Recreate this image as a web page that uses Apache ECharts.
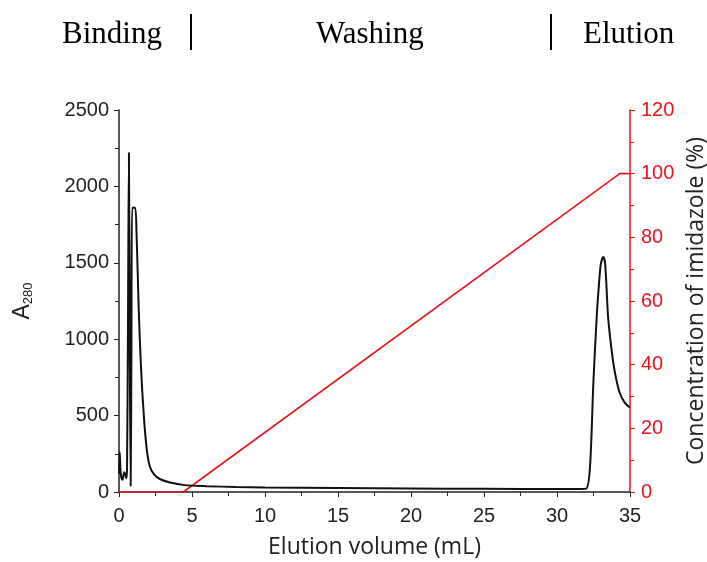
<!DOCTYPE html>
<html>
<head>
<meta charset="utf-8">
<script src="https://cdn.jsdelivr.net/npm/echarts@6/dist/echarts.min.js"></script>
<style>
  html, body { margin: 0; padding: 0; background: #fff; }
  #chart { width: 707px; height: 562px; }
</style>
</head>
<body>
<div id="chart"></div>
<script>
// A280 trace
var volume = [0, 0.05, 0.1, 0.15, 0.25, 0.35, 0.45, 0.5, 0.55, 0.62, 0.68, 0.74, 0.8, 0.85, 0.9, 1.1, 1.2, 1.35, 1.5, 1.7, 1.9, 2.1, 2.4, 2.8, 3.5, 4.5, 6, 8, 10, 15, 20, 25, 30, 31.5, 32.0, 32.26, 32.49, 32.72, 32.88, 33.0, 33.17, 33.3, 33.5, 33.7, 33.9, 34.1, 34.3, 34.6, 34.9, 35];
var a280 = [120, 260, 150, 100, 80, 130, 110, 90, 150, 1200, 2220, 900, 40, 900, 1860, 1860, 1700, 1200, 830, 500, 280, 170, 115, 85, 62, 45, 38, 33, 30, 26, 23, 21, 20, 20, 22, 164, 713, 1146, 1367, 1490, 1538, 1490, 1146, 960, 818, 720, 648, 590, 560, 556];

// imidazole gradient
var gradX = [0, 4.4, 34.3, 35];
var gradY = [0, 0, 100, 100];

var phases = ['Binding', 'Washing', 'Elution'];

function pairs(xs, ys) {
  var res = [];
  for (var i = 0; i < xs.length; i++) res.push([xs[i], ys[i]]);
  return res;
}

var chart = echarts.init(document.getElementById('chart'));
var tickFont = 'Liberation Sans';
var titleFont = 'Open Sans';
var plain = function (v) { return String(v); };

var option = {
  animation: false,
  grid: { left: 119, right: 77, top: 110, bottom: 70, outerBoundsMode: 'none', containLabel: false },
  graphic: [
    { type: 'text', left: 62, top: 19, style: { text: phases[0], font: '31px "Liberation Serif"', fill: '#000' } },
    { type: 'rect', shape: { x: 190, y: 14, width: 2, height: 36 }, style: { fill: '#000' } },
    { type: 'text', left: 316, top: 19, style: { text: phases[1], font: '31px "Liberation Serif"', fill: '#000' } },
    { type: 'rect', shape: { x: 550, y: 14, width: 2, height: 36 }, style: { fill: '#000' } },
    { type: 'text', left: 583, top: 19, style: { text: phases[2], font: '31px "Liberation Serif"', fill: '#000' } }
  ],
  xAxis: {
    type: 'value',
    min: 0, max: 35, interval: 5,
    name: 'Elution volume (mL)',
    nameLocation: 'middle',
    nameGap: 44,
    nameTextStyle: { fontFamily: titleFont, fontSize: 23, color: '#222' },
    axisLine: { onZero: false, lineStyle: { color: '#222', width: 1.5 } },
    axisTick: { inside: false, length: 5, lineStyle: { color: '#222' } },
    minorTick: { show: true, splitNumber: 2, length: 4, lineStyle: { color: '#222' } },
    axisLabel: { fontFamily: tickFont, fontSize: 20, color: '#222', margin: 14, formatter: plain },
    splitLine: { show: false }
  },
  yAxis: [
    {
      type: 'value',
      min: 0, max: 2500, interval: 500,
      name: '{a|A}{s|280}',
      nameLocation: 'middle',
      nameGap: 84,
      nameRotate: 90,
      nameTextStyle: {
        rich: {
          a: { fontFamily: tickFont, fontSize: 23, color: '#222' },
          s: { fontFamily: tickFont, fontSize: 13, color: '#222', verticalAlign: 'bottom', padding: [12, 0, 0, 0] }
        }
      },
      axisLine: { show: true, lineStyle: { color: '#222', width: 1.5 } },
      axisTick: { inside: false, length: 5, lineStyle: { color: '#222' } },
      minorTick: { show: true, splitNumber: 2, length: 4, lineStyle: { color: '#222' } },
      axisLabel: { fontFamily: tickFont, fontSize: 20, color: '#222', margin: 10, formatter: plain },
      splitLine: { show: false }
    },
    {
      type: 'value',
      position: 'right',
      min: 0, max: 120, interval: 20,
      name: 'Concentration of imidazole (%)',
      nameLocation: 'middle',
      nameGap: 53,
      nameRotate: 90,
      nameTextStyle: { fontFamily: titleFont, fontSize: 23, color: '#222' },
      axisLine: { show: true, lineStyle: { color: '#e8141c', width: 1.5 } },
      axisTick: { inside: false, length: 5, lineStyle: { color: '#e8141c' } },
      minorTick: { show: true, splitNumber: 2, length: 4, lineStyle: { color: '#e8141c' } },
      axisLabel: { fontFamily: tickFont, fontSize: 20, color: '#e8141c', margin: 11, formatter: plain },
      splitLine: { show: false }
    }
  ],
  series: [
    {
      name: 'A280',
      type: 'line',
      yAxisIndex: 0,
      data: pairs(volume, a280),
      showSymbol: false,
      smooth: 0.3,
      lineStyle: { color: '#111', width: 2 },
      z: 3
    },
    {
      name: 'Imidazole',
      type: 'line',
      yAxisIndex: 1,
      data: pairs(gradX, gradY),
      showSymbol: false,
      lineStyle: { color: '#e8141c', width: 1.6 },
      z: 2
    }
  ]
};
chart.setOption(option);
</script>
</body>
</html>
